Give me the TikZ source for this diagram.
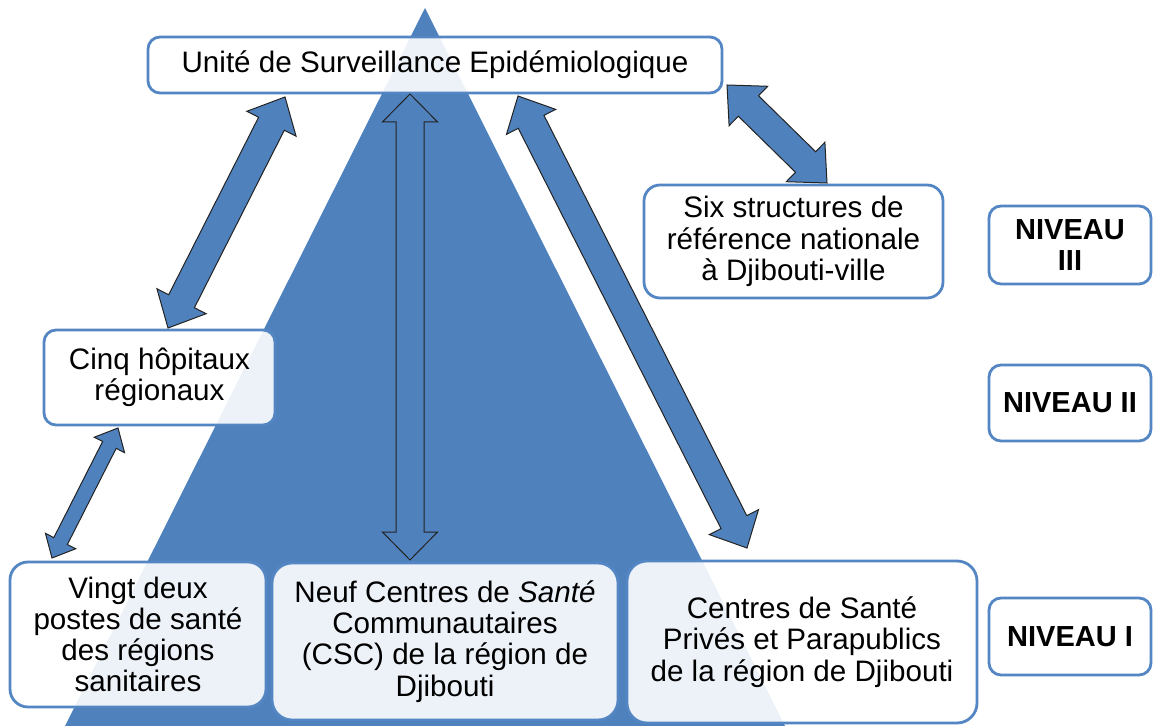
\documentclass[tikz,border=0pt]{standalone}
\usepackage{fontspec}
\setmainfont{Liberation Sans}
\usetikzlibrary{calc}
\definecolor{tri}{RGB}{79,129,189}
\definecolor{bord}{RGB}{84,134,196}
\definecolor{outl}{RGB}{35,35,35}
\newcommand{\fatarrow}[5]{%
 \filldraw[arrowshape] (#1) -- ($(#1)!#5!(#2)!#4!90:(#2)$) -- ($(#1)!#5!(#2)!#3!90:(#2)$)
 -- ($(#2)!#5!(#1)!#3!-90:(#1)$) -- ($(#2)!#5!(#1)!#4!-90:(#1)$) -- (#2)
 -- ($(#2)!#5!(#1)!#4!90:(#1)$) -- ($(#2)!#5!(#1)!#3!90:(#1)$)
 -- ($(#1)!#5!(#2)!#3!-90:(#2)$) -- ($(#1)!#5!(#2)!#4!-90:(#2)$) -- cycle;}
\begin{document}
\begin{tikzpicture}[x=0.5pt,y=-0.5pt,
  box/.style={draw=bord, line width=1.4pt, rounded corners=6pt, fill=white,
    fill opacity=0.9, text opacity=1, align=center, inner sep=0pt,
    font=\fontsize{14.8}{15.6}\selectfont},
  lvl/.style={box, font=\fontsize{14.5}{15.6}\selectfont\bfseries},
  arrowshape/.style={fill=tri, draw=outl, line width=0.5pt, line join=miter}]
\useasboundingbox (0,0) rectangle (1155,726);
% pyramid
\fill[tri] (425,8) -- (65,726) -- (785,726) -- cycle;
% boxes
\node[box, minimum width=287pt, minimum height=28pt] (usep) at (435,65)
  {Unité de Surveillance Epidémiologique};
\node[box, rounded corners=8pt, minimum width=149.5pt, minimum height=56.5pt] (six) at (793.5,241.5)
  {Six structures de\\référence nationale\\à Djibouti-ville};
\node[lvl, minimum width=81pt, minimum height=39pt] (n3) at (1070,245) {NIVEAU\\III};
\node[lvl, minimum width=81pt, minimum height=38pt] (n2) at (1070,403) {NIVEAU II};
\node[lvl, minimum width=81pt, minimum height=38.5pt] (n1) at (1070,636.5) {NIVEAU I};
\node[box, minimum width=115.5pt, minimum height=47.5pt] (cinq) at (159.5,377.5)
  {Cinq hôpitaux\\régionaux};
\node[box, rounded corners=9pt, minimum width=128pt, minimum height=72.5pt] (vingt) at (138,634.5)
  {Vingt deux\\postes de santé\\des régions\\sanitaires};
\node[box, rounded corners=10pt, minimum width=173pt, minimum height=78.5pt] (neuf) at (445,641.5)
  {Neuf Centres de \textit{Santé}\\Communautaires\\(CSC) de la région de\\Djibouti};
\node[box, rounded corners=10pt, minimum width=175pt, minimum height=81pt] (priv) at (802,642)
  {Centres de Santé\\Privés et Parapublics\\de la région de Djibouti};
% arrow end points on the boxes
\coordinate (a1s) at (168,328);  \coordinate (a1e) at (285,97);
\coordinate (a2s) at (410,94);   \coordinate (a2e) at (410,560);
\coordinate (a3s) at (518,96);   \coordinate (a3e) at (747,548);
\coordinate (a4s) at (727,85);   \coordinate (a4e) at (827,183);
\coordinate (a5s) at (52,558);   \coordinate (a5e) at (118,428);
% block double arrows
\fatarrow{a1s}{a1e}{7.2pt}{13.8pt}{15pt}
\fatarrow{a2s}{a2e}{7pt}{13.8pt}{14pt}
\fatarrow{a3s}{a3e}{7.2pt}{13.8pt}{14.5pt}
\fatarrow{a4s}{a4e}{7.2pt}{13.8pt}{15pt}
\fatarrow{a5s}{a5e}{3.8pt}{8.5pt}{9.5pt}
\end{tikzpicture}
\end{document}
